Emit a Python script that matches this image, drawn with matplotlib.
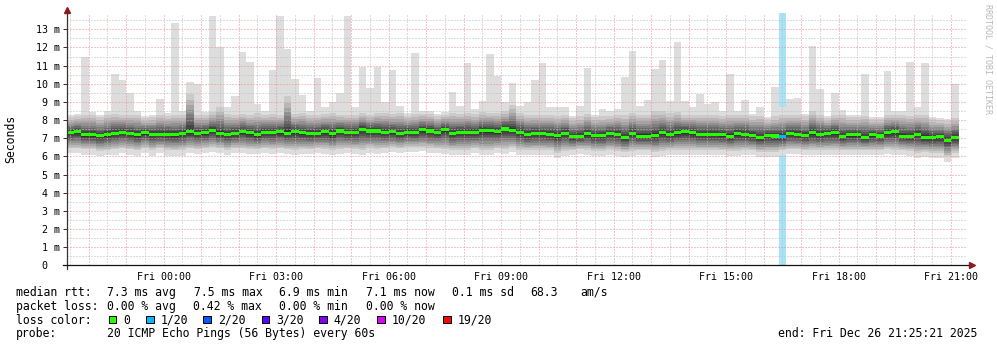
import matplotlib
matplotlib.use("Agg")
import matplotlib.pyplot as plt
from matplotlib.patches import Rectangle
from matplotlib.ticker import MultipleLocator, FuncFormatter

W, H = 997, 347

# smokeping data: 12 minute steps, first step starts Thu 21:24 (hours relative to Fri 00:00)
step_h = 0.2
first_h = -2.6

med_ms = [7.31, 7.35, 7.18, 7.18, 7.14, 7.18, 7.27, 7.33, 7.27, 7.18, 7.29, 7.22, 7.22, 7.22, 7.18, 7.25, 7.35, 7.27, 7.29, 7.42, 7.27, 7.22, 7.27, 7.36,
          7.29, 7.18, 7.33, 7.31, 7.35, 7.27, 7.35, 7.29, 7.25, 7.27, 7.35, 7.24, 7.40, 7.31, 7.33, 7.50, 7.40, 7.40, 7.31, 7.35, 7.25, 7.33, 7.31, 7.46,
          7.40, 7.33, 7.48, 7.25, 7.33, 7.33, 7.31, 7.42, 7.42, 7.36, 7.51, 7.44, 7.33, 7.20, 7.27, 7.25, 7.22, 7.14, 7.27, 7.07, 7.11, 7.24, 7.14, 7.14,
          7.25, 7.20, 7.03, 7.27, 7.11, 7.11, 7.16, 7.29, 7.20, 7.31, 7.35, 7.31, 7.22, 7.22, 7.22, 7.18, 7.11, 7.25, 7.22, 7.14, 7.05, 7.14, 7.12, 7.07,
          7.25, 7.22, 7.14, 7.29, 7.20, 7.27, 7.29, 7.07, 7.18, 7.18, 7.05, 7.18, 7.12, 7.29, 7.36, 7.11, 7.11, 7.22, 7.05, 7.03, 7.07, 6.89, 7.05]

max_ms = [8.3, 8.35, 11.5, 8.45, 8.3, 8.5, 10.55, 10.2, 9.5, 8.5, 8.25, 8.3, 9.15, 8.4, 13.35, 8.5, 10.1, 10.0, 8.45, 13.75, 12.0, 8.7, 9.3, 11.75,
          11.2, 8.9, 8.5, 10.77, 13.75, 11.9, 10.25, 9.4, 8.5, 10.33, 8.7, 9.0, 9.48, 13.75, 8.7, 10.95, 9.78, 10.9, 9.0, 10.77, 8.8, 8.4, 11.7, 8.5,
          8.5, 8.32, 8.47, 9.56, 8.78, 11.16, 8.6, 9.06, 11.66, 10.4, 9.0, 10.05, 8.78, 8.97, 10.2, 11.12, 8.73, 8.7, 8.73, 8.23, 8.78, 10.88, 8.29, 8.6,
          8.5, 8.6, 10.38, 11.82, 8.78, 9.1, 10.83, 11.32, 9.06, 12.32, 9.06, 8.73, 9.46, 8.91, 9.0, 8.5, 10.53, 8.5, 9.1, 8.36, 8.73, 8.17, 9.83, 8.73,
          9.15, 9.22, 8.32, 12.1, 9.7, 8.21, 9.5, 8.56, 8.29, 8.29, 10.55, 8.17, 8.17, 10.72, 8.5, 8.5, 11.2, 8.73, 11.12, 8.17, 8.1, 8.05, 9.98]

hi_ms = [8.15, 8.2, 8.3, 8.3, 8.15, 8.3, 8.35, 8.3, 8.3, 8.3, 8.1, 8.15, 8.3, 8.25, 8.3, 8.3, 9.46, 8.3, 8.3, 8.45, 8.7, 8.35, 8.3, 8.35,
         8.3, 8.4, 8.3, 8.35, 8.3, 9.3, 8.35, 8.4, 8.3, 8.3, 8.35, 8.4, 8.3, 8.3, 8.3, 8.4, 8.3, 8.4, 8.4, 8.35, 8.4, 8.25, 8.35, 8.35,
         8.35, 8.2, 8.3, 8.4, 8.35, 8.4, 8.35, 8.45, 8.4, 8.4, 8.5, 8.84, 8.4, 8.3, 8.3, 8.3, 8.3, 8.25, 8.3, 8.1, 8.2, 8.35, 8.15, 8.2,
         8.2, 8.3, 8.3, 8.4, 8.3, 8.3, 8.5, 8.5, 8.4, 8.45, 8.3, 8.3, 8.3, 8.3, 8.3, 8.25, 8.3, 8.3, 8.3, 8.2, 8.25, 8.05, 8.2, 8.3,
         8.3, 8.3, 8.2, 8.5, 8.3, 8.1, 8.3, 8.3, 8.15, 8.15, 8.25, 8.05, 8.05, 8.3, 8.3, 8.3, 8.25, 8.3, 8.3, 8.05, 8.0, 7.95, 8.1]

lo_ms = [6.45, 6.45, 6.4, 6.4, 6.3, 6.35, 6.4, 6.45, 6.4, 6.35, 6.45, 6.35, 6.45, 6.35, 6.35, 6.35, 6.45, 6.4, 6.45, 6.5, 6.45, 6.35, 6.45, 6.45,
         6.4, 6.4, 6.45, 6.4, 6.45, 6.4, 6.35, 6.4, 6.4, 6.45, 6.4, 6.35, 6.4, 6.45, 6.4, 6.35, 6.45, 6.4, 6.45, 6.5, 6.45, 6.5, 6.5, 6.5,
         6.45, 6.45, 6.4, 6.35, 6.35, 6.35, 6.45, 6.35, 6.35, 6.45, 6.4, 6.5, 6.35, 6.35, 6.35, 6.35, 6.35, 6.2, 6.3, 6.35, 6.4, 6.35, 6.3, 6.3,
         6.35, 6.3, 6.25, 6.3, 6.35, 6.35, 6.25, 6.3, 6.35, 6.35, 6.35, 6.35, 6.35, 6.35, 6.35, 6.35, 6.3, 6.3, 6.35, 6.35, 6.25, 6.25, 6.25, 6.35,
         6.4, 6.4, 6.35, 6.35, 6.35, 6.35, 6.35, 6.35, 6.35, 6.35, 6.35, 6.35, 6.35, 6.4, 6.35, 6.35, 6.3, 6.2, 6.25, 6.2, 6.2, 6.0, 6.2]

min_ms = [6.2, 6.2, 6.1, 6.1, 6.0, 6.06, 6.1, 6.2, 6.1, 6.04, 6.2, 6.04, 6.2, 6.04, 6.04, 6.04, 6.2, 6.15, 6.2, 6.25, 6.17, 6.06, 6.2, 6.17,
          6.15, 6.15, 6.2, 6.15, 6.2, 6.15, 6.08, 6.15, 6.15, 6.2, 6.15, 6.08, 6.15, 6.2, 6.15, 6.08, 6.2, 6.15, 6.2, 6.25, 6.2, 6.25, 6.25, 6.28,
          6.2, 6.2, 6.15, 6.1, 6.08, 6.08, 6.2, 6.1, 6.1, 6.2, 6.15, 6.25, 6.1, 6.08, 6.08, 6.08, 6.08, 5.93, 6.02, 6.08, 6.15, 6.1, 6.02, 6.02,
          6.1, 6.02, 5.97, 6.02, 6.08, 6.08, 5.97, 6.02, 6.08, 6.1, 6.1, 6.08, 6.08, 6.1, 6.08, 6.1, 6.02, 6.02, 6.08, 6.08, 5.97, 5.97, 5.97, 6.1,
          6.15, 6.15, 6.08, 6.08, 6.1, 6.08, 6.08, 6.08, 6.1, 6.1, 6.08, 6.1, 6.1, 6.15, 6.1, 6.08, 6.02, 5.93, 5.97, 5.93, 5.93, 5.71, 5.93]

lost = [0] * 95 + [1] + [0] * 23   # lost pings out of 20 per step

loss_steps = ["0", "1/20", "2/20", "3/20", "4/20", "10/20", "19/20"]
loss_colors = ["#26ff00", "#00b8ff", "#0059ff", "#5e00ff", "#7e00ff", "#dd00ff", "#ff0000"]
loss_fill = "#a8e4f8"

x_ticks = [0, 3, 6, 9, 12, 15, 18, 21]
x_labels = ["Fri 00:00", "Fri 03:00", "Fri 06:00", "Fri 09:00", "Fri 12:00", "Fri 15:00", "Fri 18:00", "Fri 21:00"]

# relative position of the inner pings between lo->median and median->hi
low_frac = [0.1, 0.22, 0.33, 0.44, 0.55, 0.66, 0.77, 0.89]
up_frac = [0.08, 0.17, 0.26, 0.36, 0.46, 0.57, 0.69, 0.83]

mono = "DejaVu Sans Mono"
plt.rcParams["font.family"] = mono

fig = plt.figure(figsize=(W / 100, H / 100), dpi=100)
fig.patch.set_facecolor("white")
top_px, bot_px, left_px, right_px = 13.5, 265.3, 67, 967
ax = fig.add_axes([left_px / W, 1 - bot_px / H, (right_px - left_px) / W, (bot_px - top_px) / H])
ax.set_xlim(-2.5775, 21.4225)
ax.set_ylim(0, 13.87)

n = len(med_ms)
xs = [first_h + step_h * i for i in range(n)]

# loss background
for i in range(n):
    if lost[i] > 0:
        ax.bar(xs[i], 13.87, width=step_h, align="edge", color=loss_fill, linewidth=0, zorder=0.5)

# smoke: 20 sorted pings -> 10 nested bands
pings = []
for i in range(n):
    p = [min_ms[i], lo_ms[i]]
    p += [lo_ms[i] + f * (med_ms[i] - lo_ms[i]) for f in low_frac]
    p += [med_ms[i] + f * (hi_ms[i] - med_ms[i]) for f in up_frac]
    p += [hi_ms[i], max_ms[i]]
    pings.append(p)

for k in range(10):
    g = int(190 / 10 * (9 - k)) + 50
    col = "#%02x%02x%02x" % (g, g, g)
    bots = [p[k] for p in pings]
    tops = [p[19 - k] for p in pings]
    ax.bar(xs, [t - b for t, b in zip(tops, bots)], bottom=bots, width=step_h, align="edge",
           color=col, linewidth=0, zorder=1 + k * 0.01)

# median
med_cols = [loss_colors[min(l, 6)] for l in lost]
ax.bar(xs, 0.17, bottom=[m - 0.085 for m in med_ms], width=step_h, align="edge",
       color=med_cols, linewidth=0, zorder=3)

# grid
ax.xaxis.set_major_locator(MultipleLocator(1))
ax.xaxis.set_minor_locator(MultipleLocator(0.5))
ax.yaxis.set_major_locator(MultipleLocator(1))
ax.yaxis.set_minor_locator(MultipleLocator(0.5))
ax.set_axisbelow(False)
ax.grid(which="major", color="#eb8f8f", linewidth=0.72, linestyle=(0, (1, 2)))
ax.grid(which="minor", color="#bdbdbd", linewidth=0.72, linestyle=(0, (1, 2)))

ax.xaxis.set_major_formatter(FuncFormatter(lambda v, pos: ""))
ax.tick_params(axis="x", which="both", length=0)
ax.tick_params(axis="y", which="minor", length=0)
ax.tick_params(axis="y", which="major", length=2.9, width=0.72, color="#333333", pad=2.2,
               labelsize=7.2, labelcolor="#000000")
ylabels = {0: "0  "}
ax.yaxis.set_major_formatter(FuncFormatter(lambda v, pos: ylabels.get(int(round(v)), "%d m" % round(v))))
for xt, lab in zip(x_ticks, x_labels):
    ax.text(xt, -0.35, lab, ha="center", va="top", fontsize=7.2, transform=ax.transData, clip_on=False)

for s in ax.spines.values():
    s.set_visible(False)

# axes with arrows
y_arrow = (bot_px - 10) / 18.15
ax.plot([-2.5775, -2.5775], [-0.2, y_arrow], color="#333333", lw=0.9, clip_on=False, zorder=6)
ax.plot([-2.684, 21.52], [0, 0], color="#111111", lw=0.9, clip_on=False, zorder=6)
ax.plot([-2.5775], [y_arrow], marker="^", color="#8b1a1a", markersize=4, clip_on=False, zorder=7)
ax.plot([21.55], [0], marker=">", color="#8b1a1a", markersize=4, clip_on=False, zorder=7)


def fx(x):
    return x / W


def fy(y):
    return 1 - y / H


fig.text(fx(11), fy(139), "Seconds", rotation=90, ha="center", va="center", fontsize=8.3)
fig.text(fx(987.5), fy(4), "RRDTOOL / TOBI OETIKER", rotation=270, ha="center", va="top",
         fontsize=6.0, color="#b8b8b8")

fs = 8.3
rows = [295.7, 309.6, 323.5, 337.4]
fig.text(fx(16), fy(rows[0]), "median rtt:", fontsize=fs, va="baseline")
for xp, s in zip([107.3, 194.3, 279.3, 365.7, 451.7, 530, 580],
                 ["7.3 ms avg", "7.5 ms max", "6.9 ms min", "7.1 ms now", "0.1 ms sd", "68.3", "am/s"]):
    fig.text(fx(xp), fy(rows[0]), s, fontsize=fs, va="baseline")
fig.text(fx(16), fy(rows[1]), "packet loss:", fontsize=fs, va="baseline")
for xp, s in zip([107.3, 193.3, 279.3, 365.7],
                 ["0.00 % avg", "0.42 % max", "0.00 % min", "0.00 % now"]):
    fig.text(fx(xp), fy(rows[1]), s, fontsize=fs, va="baseline")
fig.text(fx(16), fy(rows[2]), "loss color:", fontsize=fs, va="baseline")
box_x = [108.7, 146, 203.3, 261.7, 319.3, 377.3, 443.3]
for bx, lab, col in zip(box_x, loss_steps, loss_colors):
    fig.patches.append(Rectangle((fx(bx), fy(323.3)), 7.5 / W, 7.5 / H, transform=fig.transFigure,
                                 facecolor=col, edgecolor="black", linewidth=0.72))
    fig.text(fx(bx + 14.5), fy(rows[2]), lab, fontsize=fs, va="baseline")
fig.text(fx(16), fy(rows[3]), "probe:", fontsize=fs, va="baseline")
fig.text(fx(107.3), fy(rows[3]), "20 ICMP Echo Pings (56 Bytes) every 60s", fontsize=fs, va="baseline")
fig.text(fx(778.3), fy(rows[3]), "end: Fri Dec 26 21:25:21 2025", fontsize=fs, va="baseline")

fig.savefig("out.png", dpi=100, facecolor="white")
